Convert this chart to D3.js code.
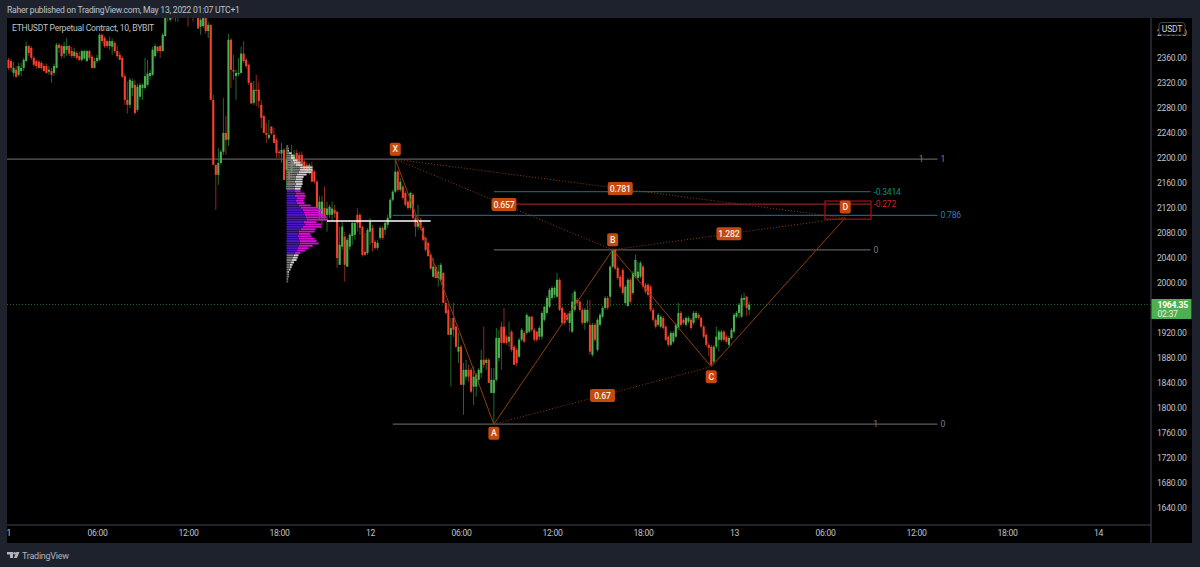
<!DOCTYPE html>
<html>
<head>
<meta charset="utf-8">
<style>
  html, body { margin: 0; padding: 0; background: #1e222d; overflow: hidden; }
  svg { display: block; }
  text { font-family: Roboto, "Noto Sans", sans-serif; letter-spacing: -0.25px; }
</style>
</head>
<body>
<div id="chart"></div>
<script src="https://cdn.jsdelivr.net/npm/d3@7"></script>
<script>
// ten minute candles, May 11 00:00 onward
const opens = [
  2343,2356,2354,2335,2340,2332,2338,2343,2354,2378,2375,2359,2354,2353,2351,2346,2346,2337,2338,2335,
  2343,2380,2378,2366,2372,2378,2370,2362,2367,2362,2356,2358,2354,2370,2361,2343,2354,2356,2396,2391,
  2386,2378,2377,2383,2370,2364,2359,2330,2292,2284,2311,2316,2276,2297,2311,2311,2316,2330,2332,2362,
  2377,2378,2370,2394,2436,2420,2439,2426,2433,2442,2442,2433,2439,2436,2436,2431,2433,2409,2410,2430,
  2402,2412,2292,2188,2172,2191,2209,2239,2228,2388,2340,2330,2334,2335,2366,2356,2348,2319,2287,2308,
  2308,2284,2266,2239,2231,2249,2236,2228,2209,2206,2212,2180,2177,2177,2186,2207,2204,2204,2193,2188,
  2180,2180,2177,2161,2108,2105,2119,2108,2108,2108,2116,2113,2028,2057,2073,2025,2057,2074,2076,2108,
  2108,2089,2049,2047,2081,2087,2065,2055,2071,2087,2084,2092,2103,2132,2145,2177,2148,2153,2143,2129,
  2119,2140,2103,2089,2100,2087,2071,2063,2044,2009,2025,2007,2004,2015,1967,1956,1916,1943,1929,1889,
  1897,1836,1849,1860,1860,1833,1833,1844,1855,1876,1871,1876,1823,1823,1844,1879,1929,1929,1913,1905,
  1921,1897,1892,1881,1908,1919,1919,1921,1945,1924,1921,1913,1913,1940,1951,1961,1975,1980,1977,2004,
  1959,1951,1948,1935,1921,1956,1972,1969,1956,1935,1937,1932,1884,1932,1892,1932,1945,1959,1975,1977,
  2025,2052,2023,2009,2020,1967,1962,2004,1983,2009,2007,2009,2025,1996,1996,1993,1956,1940,1932,1929,
  1943,1929,1913,1900,1905,1913,1927,1951,1940,1932,1937,1940,1935,1943,1948,1943,1929,1916,1900,1897,
  1873,1897,1908,1908,1921,1913,1900,1911,1921,1945,1951,1945,1972,1977,1956
];
const closes = [
  2356,2343,2343,2343,2329,2346,2343,2356,2378,2367,2359,2348,2346,2343,2343,2338,2335,2340,2332,2346,
  2380,2375,2362,2378,2378,2366,2362,2369,2359,2356,2370,2370,2370,2359,2343,2354,2359,2396,2386,2378,
  2378,2386,2386,2370,2362,2356,2329,2292,2284,2324,2322,2271,2313,2316,2316,2330,2334,2335,2372,2378,
  2370,2370,2396,2423,2423,2433,2430,2439,2442,2433,2436,2442,2431,2430,2430,2439,2406,2420,2430,2402,
  2412,2292,2188,2172,2191,2209,2239,2228,2388,2340,2337,2335,2335,2366,2354,2346,2319,2286,2308,2306,
  2290,2263,2239,2236,2236,2238,2223,2207,2207,2212,2164,2196,2164,2202,2204,2188,2186,2188,2180,2177,
  2188,2161,2161,2119,2129,2129,2105,2118,2121,2118,2110,2039,2060,2089,2028,2068,2076,2095,2095,2095,
  2087,2044,2044,2084,2097,2063,2055,2063,2087,2071,2095,2103,2132,2145,2177,2148,2161,2135,2124,2119,
  2143,2103,2089,2100,2087,2068,2052,2042,2022,2025,2007,2017,2028,1967,1951,1916,1927,1924,1897,1897,
  1836,1860,1860,1849,1825,1849,1852,1860,1876,1868,1876,1839,1844,1844,1911,1911,1903,1903,1903,1913,
  1892,1868,1871,1908,1924,1905,1948,1945,1924,1908,1908,1927,1951,1961,1975,1988,1991,1991,2004,1956,
  1935,1935,1940,1951,1969,1985,1967,1956,1935,1956,1956,1889,1932,1908,1940,1948,1959,1975,1959,2025,
  2052,2022,2007,1993,1983,1993,2004,1969,2015,2036,2017,2031,1993,1985,1980,1956,1940,1929,1948,1945,
  1927,1908,1900,1919,1919,1932,1951,1932,1935,1943,1943,1927,1951,1951,1943,1929,1913,1900,1895,1868,
  1897,1913,1921,1921,1908,1905,1911,1924,1948,1951,1964,1975,1975,1959,1964.35
];
const highs = [
  2370,2359,2358,2353,2346,2351,2351,2359,2385,2380,2378,2362,2356,2356,2354,2350,2350,2346,2343,2350,
  2383,2383,2380,2385,2391,2380,2377,2375,2370,2369,2372,2372,2372,2372,2364,2359,2364,2399,2398,2394,
  2388,2393,2390,2386,2378,2369,2362,2334,2321,2327,2326,2324,2318,2319,2318,2359,2356,2340,2377,2382,
  2378,2380,2399,2433,2439,2439,2444,2446,2447,2447,2446,2446,2446,2442,2442,2442,2439,2423,2436,2436,
  2417,2412,2300,2188,2215,2212,2295,2266,2398,2391,2364,2340,2359,2377,2386,2359,2350,2321,2322,2332,
  2321,2292,2268,2255,2260,2250,2247,2231,2212,2223,2215,2217,2188,2220,2212,2212,2209,2209,2196,2193,
  2191,2193,2180,2164,2138,2138,2153,2129,2124,2129,2124,2114,2089,2097,2081,2071,2079,2097,2098,2119,
  2111,2090,2079,2087,2103,2092,2068,2068,2090,2090,2097,2108,2135,2148,2196,2180,2167,2156,2146,2132,
  2145,2143,2106,2124,2103,2090,2073,2065,2046,2039,2028,2028,2031,2017,1972,1964,1943,1967,1932,1919,
  1900,1871,1876,1868,1863,1865,1855,1863,1892,1929,1879,1879,1863,1863,1927,1924,1937,1959,1916,1937,
  1924,1900,1895,1911,1927,1922,1951,1946,1946,1927,1922,1930,1954,1962,1978,1991,1994,1994,2015,2007,
  1962,1953,1951,1954,1983,1988,1975,1972,1959,1959,1972,1972,1935,1935,1943,1951,1962,1978,1978,2027,
  2054,2054,2027,2012,2023,1996,2007,2007,2018,2044,2033,2034,2028,1999,1999,1996,1959,1943,1951,1948,
  1946,1932,1916,1922,1922,1935,1967,1954,1943,1946,1946,1943,1954,1954,1951,1946,1932,1919,1903,1900,
  1900,1929,1924,1924,1924,1916,1914,1927,1951,1954,1967,1980,1983,1978,1969
];
const lows = [
  2319,2340,2337,2329,2327,2329,2330,2338,2353,2362,2356,2345,2342,2342,2340,2337,2334,2332,2319,2330,
  2342,2367,2358,2359,2362,2362,2359,2359,2356,2354,2353,2356,2353,2356,2342,2342,2351,2354,2382,2375,
  2375,2372,2364,2367,2359,2356,2327,2284,2270,2279,2298,2268,2273,2292,2292,2308,2313,2324,2330,2359,
  2367,2359,2369,2393,2417,2417,2420,2417,2417,2430,2433,2430,2409,2426,2417,2428,2406,2396,2407,2398,
  2391,2292,2188,2116,2156,2188,2204,2204,2218,2311,2324,2292,2330,2334,2351,2342,2316,2286,2284,2282,
  2279,2247,2239,2223,2228,2236,2223,2199,2199,2191,2164,2148,2145,2170,2180,2180,2180,2180,2177,2175,
  2172,2161,2158,2119,2100,2092,2100,2081,2103,2097,2103,2023,2028,2052,2001,2025,2052,2060,2068,2081,
  2076,2041,2042,2044,2060,2049,2052,2052,2068,2068,2076,2087,2100,2129,2143,2145,2145,2132,2121,2116,
  2116,2100,2073,2084,2084,2066,2049,2041,2020,2007,2006,1993,2001,1967,1948,1916,1833,1913,1895,1871,
  1836,1788,1844,1841,1823,1804,1817,1836,1847,1863,1860,1839,1823,1774,1841,1873,1860,1902,1900,1897,
  1889,1868,1866,1879,1905,1903,1916,1919,1921,1905,1905,1908,1908,1937,1948,1959,1972,1975,1975,1954,
  1932,1932,1937,1921,1919,1953,1962,1953,1932,1924,1934,1884,1881,1905,1889,1929,1942,1956,1956,1961,
  2023,2020,2004,1990,1980,1964,1961,1966,1980,2006,2004,2006,1990,1982,1977,1953,1937,1926,1929,1926,
  1924,1906,1897,1898,1902,1911,1924,1929,1932,1929,1934,1924,1932,1940,1940,1926,1910,1897,1882,1866,
  1870,1894,1889,1905,1905,1902,1897,1908,1918,1943,1943,1943,1962,1946,1948
];

// right side scale and time axis labels
const priceTicks = [2400,2360,2320,2280,2240,2200,2160,2120,2080,2040,2000,1920,1880,1840,1800,1760,1720,1680,1640];
const timeTicks = [0,36,72,108,144,180,216,252,288,324,360,396,432];
const timeLabels = ['11','06:00','12:00','18:00','12','06:00','12:00','18:00','13','06:00','12:00','18:00','14'];

// harmonic pattern
const patternNames = ['X','A','B','C','D'];
const patternBars = [154,193,240,279,332];
const patternPrices = [2197,1773,2052,1865,2103];
const ratioNames = ['0.657','0.781','1.282','0.67'];
const ratioFrom = [0,0,2,1];
const ratioTo = [2,4,4,3];

// fib levels drawn on the pattern
const fibPrices = [2197,2145,2125,2107,2052,1773];
const fibStart = [0,193,193,153,193,153];
const fibEnd = [368.5,342,342,368.5,342,368.5];
const fibLabels = ['1','-0.3414','-0.272','0.786','0','0'];
const fibLine = ['#5c5c5c','#0d655c','#8a2323','#1a5d85','#5c5c5c','#5c5c5c'];
const fibText = ['#787b86','#0b8f7e','#c42b2b','#2a7fb8','#787b86','#787b86'];
const fibInner = [{label:'1', bar:362, price:2197},{label:'1', bar:344, price:1773}];

// volume profile rows from the top row down
const vpTop = 2218;
const vpStep = 3.8;
const vpStartBar = 111;
const vpTotal = [1,2,2.5,5,7,8,11,14,16,26,26,25,20,17,16,16,16,15,14,14,18,19,18,17,18,24,32,35,34,37,40,41,30,35,35,29,28,24,25,28,30,32,26,22,19,14,12,11,10,7.5,6,5,4,2.5,2,2,1.5,1.5];
const vpUp = [0.5,1,1.5,2.5,4,4,6,7,9,13,13,12,10,9,9,8,9,8,8,8,9,8,10,9,10,12,14,16,17,18,19,20,17,18,16,14,12,12,11,12,13,13,12,11,10,8,7,6,5,4,3,3,2,1.5,1,1,1,1];
const vpAreaFirst = 19;
const vpAreaLast = 45;
const pocPrice = 2098;
const pocBars = [127,168];

const lastPrice = 1964.35;
const countdown = '02:37';

const width = 1200, height = 567;
const chart = { left: 7, top: 18, right: 1151, bottom: 525, axisRight: 1192, axisBottom: 543 };
const labelColor = '#bfc2ca';

const svg = d3.select('#chart').append('svg')
  .attr('width', width)
  .attr('height', height);

svg.append('rect').attr('width', width).attr('height', height).attr('fill', '#1e222d');
svg.append('rect')
  .attr('x', chart.left).attr('y', chart.top)
  .attr('width', chart.axisRight - chart.left)
  .attr('height', chart.axisBottom - chart.top)
  .attr('fill', '#000');

const defs = svg.append('defs');
defs.append('clipPath').attr('id', 'plot').append('rect')
  .attr('x', chart.left).attr('y', chart.top)
  .attr('width', chart.right - chart.left)
  .attr('height', chart.bottom - chart.top);
defs.append('clipPath').attr('id', 'timeclip').append('rect')
  .attr('x', chart.left).attr('y', chart.bottom)
  .attr('width', chart.right - chart.left)
  .attr('height', chart.axisBottom - chart.bottom);

const x = d3.scaleLinear().domain([0, 432]).range([6, 1098]);
const y = d3.scaleLinear().domain([2360, 1640]).range([57.3, 507.3]);

// axes
const yAxis = svg.append('g')
  .attr('transform', 'translate(' + chart.right + ',0)')
  .call(d3.axisRight(y).tickValues(priceTicks).tickFormat(d3.format('.2f')).tickSize(0).tickPadding(6));
yAxis.select('.domain').remove();
yAxis.selectAll('text').attr('fill', labelColor).attr('font-size', 8.6).style('font-family', 'Roboto, sans-serif');

const xAxis = svg.append('g')
  .attr('clip-path', 'url(#timeclip)')
  .append('g')
  .attr('transform', 'translate(0,' + chart.bottom + ')')
  .call(d3.axisBottom(x).tickValues(timeTicks).tickFormat(function(d, i) { return timeLabels[i]; }).tickSize(0).tickPadding(5));
xAxis.select('.domain').remove();
xAxis.selectAll('text').attr('fill', labelColor).attr('font-size', 8.6).style('font-family', 'Roboto, sans-serif');

svg.append('line').attr('x1', chart.left).attr('x2', chart.right).attr('y1', chart.bottom).attr('y2', chart.bottom)
  .attr('stroke', '#434651');
svg.append('line').attr('x1', chart.right).attr('x2', chart.right).attr('y1', chart.top).attr('y2', chart.axisBottom)
  .attr('stroke', '#434651');

const plot = svg.append('g').attr('clip-path', 'url(#plot)');

// last price line
plot.append('line')
  .attr('x1', chart.left).attr('x2', chart.right)
  .attr('y1', y(lastPrice)).attr('y2', y(lastPrice))
  .attr('stroke', '#1d6b2a').attr('stroke-dasharray', '1,2');

// fib levels
plot.selectAll('.fib').data(fibPrices).enter().append('line')
  .attr('class', 'fib')
  .attr('x1', function(d, i) { return x(fibStart[i]); })
  .attr('x2', function(d, i) { return x(fibEnd[i]); })
  .attr('y1', function(d) { return y(d); })
  .attr('y2', function(d) { return y(d); })
  .attr('stroke', function(d, i) { return fibLine[i]; })
  .attr('stroke-width', 1.2);

// candles
const bars = d3.range(opens.length);
const isUp = function(i) { return closes[i] >= opens[i]; };

plot.selectAll('.wick').data(bars).enter().append('line')
  .attr('class', 'wick')
  .attr('x1', function(i) { return x(i); })
  .attr('x2', function(i) { return x(i); })
  .attr('y1', function(i) { return y(highs[i]); })
  .attr('y2', function(i) { return y(lows[i]); })
  .attr('stroke', function(i) { return isUp(i) ? '#1f6b2b' : '#8c2a1e'; })
  .attr('stroke-width', 1);

plot.selectAll('.body').data(bars).enter().append('rect')
  .attr('class', 'body')
  .attr('x', function(i) { return x(i) - 1.05; })
  .attr('width', 2.1)
  .attr('y', function(i) { return y(Math.max(opens[i], closes[i])); })
  .attr('height', function(i) { return Math.max(1, Math.abs(y(opens[i]) - y(closes[i]))); })
  .attr('fill', function(i) { return isUp(i) ? '#4caf50' : '#f4402c'; });

// volume profile
const vpX = d3.scaleLinear().domain([0, 41]).range([x(vpStartBar), x(vpStartBar) + 41]);
const vpY = function(i) { return y(vpTop - i * vpStep); };
const inArea = function(i) { return i >= vpAreaFirst && i <= vpAreaLast; };

const vpRows = plot.selectAll('.vp').data(vpTotal).enter().append('g').attr('class', 'vp');
vpRows.append('rect')
  .attr('x', function(d, i) { return vpX(vpUp[i]); })
  .attr('y', function(d, i) { return vpY(i) - 0.95; })
  .attr('width', function(d, i) { return vpX(d) - vpX(vpUp[i]); })
  .attr('height', 1.9)
  .attr('fill', function(d, i) { return inArea(i) ? '#d60fd6' : '#cfcfcf'; });
vpRows.append('rect')
  .attr('x', vpX(0))
  .attr('y', function(d, i) { return vpY(i) - 0.95; })
  .attr('width', function(d, i) { return vpX(vpUp[i]) - vpX(0); })
  .attr('height', 1.9)
  .attr('fill', function(d, i) { return inArea(i) ? '#4a18c8' : '#7e7e7e'; });

plot.append('line')
  .attr('x1', x(pocBars[0])).attr('x2', x(pocBars[1]))
  .attr('y1', y(pocPrice)).attr('y2', y(pocPrice))
  .attr('stroke', '#fff').attr('stroke-width', 1.6);

// pattern lines
const px = function(i) { return x(patternBars[i]); };
const py = function(i) { return y(patternPrices[i]); };
const orange = '#8f3f0e';

plot.append('path')
  .datum(patternBars.map(function(b, i) { return [x(b), y(patternPrices[i])]; }))
  .attr('d', d3.line())
  .attr('fill', 'none').attr('stroke', orange).attr('stroke-width', 1);

plot.selectAll('.ratioline').data(ratioNames).enter().append('line')
  .attr('class', 'ratioline')
  .attr('x1', function(d, i) { return px(ratioFrom[i]); })
  .attr('y1', function(d, i) { return py(ratioFrom[i]); })
  .attr('x2', function(d, i) { return px(ratioTo[i]); })
  .attr('y2', function(d, i) { return py(ratioTo[i]); })
  .attr('stroke', orange).attr('stroke-dasharray', '1,2');

// PRZ box around D
plot.append('rect')
  .attr('x', x(324)).attr('width', x(342.2) - x(324))
  .attr('y', y(2130)).attr('height', y(2101) - y(2130))
  .attr('fill', 'none').attr('stroke', '#b30c0c').attr('stroke-width', 1.2);

// fib text
plot.selectAll('.fibtext').data(fibPrices).enter().append('text')
  .attr('class', 'fibtext')
  .attr('x', function(d, i) { return x(fibEnd[i]) + 3; })
  .attr('y', function(d) { return y(d); })
  .attr('dy', '0.35em')
  .attr('font-size', 8.6)
  .attr('fill', function(d, i) { return fibText[i]; })
  .text(function(d, i) { return fibLabels[i]; });
plot.selectAll('.fibinner').data(fibInner).enter().append('text')
  .attr('class', 'fibinner')
  .attr('x', function(d) { return x(d.bar); })
  .attr('y', function(d) { return y(d.price); })
  .attr('dy', '0.35em')
  .attr('text-anchor', 'middle')
  .attr('font-size', 8.6)
  .attr('fill', '#787b86')
  .text(function(d) { return d.label; });

// orange tags
function tag(cx, cy, w, label) {
  const g = plot.append('g').attr('transform', 'translate(' + cx + ',' + cy + ')');
  g.append('rect')
    .attr('x', -w / 2).attr('y', -6.5)
    .attr('width', w).attr('height', 13)
    .attr('rx', 2)
    .attr('fill', '#c6490c');
  g.append('text')
    .attr('text-anchor', 'middle')
    .attr('dy', '0.35em')
    .attr('font-size', 8.8)
    .attr('font-weight', 500)
    .attr('fill', '#f2efe9')
    .text(label);
}

const tagOffset = [-10, 9, -10, 10, -11];
patternNames.forEach(function(name, i) {
  tag(px(i), py(i) + tagOffset[i], 11, name);
});
ratioNames.forEach(function(name, i) {
  const a = ratioFrom[i], b = ratioTo[i];
  tag((px(a) + px(b)) / 2, (py(a) + py(b)) / 2, 25, name);
});

// chart title and header
svg.append('text')
  .attr('x', 12).attr('y', 31)
  .attr('font-size', 8.6)
  .attr('fill', labelColor)
  .text('ETHUSDT Perpetual Contract, 10, BYBIT');

svg.append('text')
  .attr('x', 7).attr('y', 13)
  .attr('font-size', 8.6)
  .attr('fill', labelColor)
  .text('Raher published on TradingView.com, May 13, 2022 01:07 UTC+1');

// last price label
svg.append('rect')
  .attr('x', chart.right + 0.5).attr('y', y(lastPrice) - 5.6)
  .attr('width', chart.axisRight - chart.right - 1).attr('height', 20)
  .attr('fill', '#4caf50');
svg.append('text')
  .attr('x', 1157.5).attr('y', y(lastPrice) + 3.6)
  .attr('font-size', 8.6).attr('font-weight', 700)
  .attr('fill', '#fff')
  .text(d3.format('.2f')(lastPrice));
svg.append('text')
  .attr('x', 1157.5).attr('y', y(lastPrice) + 12.6)
  .attr('font-size', 8.6)
  .attr('fill', '#e6f4e7')
  .text(countdown);

// currency button
svg.append('rect')
  .attr('x', 1159).attr('y', 22.5)
  .attr('width', 26).attr('height', 12.5)
  .attr('rx', 3)
  .attr('fill', '#000').attr('stroke', '#434651');
svg.append('text')
  .attr('x', 1172).attr('y', 31.8)
  .attr('text-anchor', 'middle')
  .attr('font-size', 8.6)
  .attr('fill', '#d1d4dc')
  .text('USDT');

// footer logo
const logo = svg.append('g').attr('fill', '#b2b5be');
logo.append('path').attr('d', 'M7 552h6v6h-3v-3.4h-3z');
logo.append('circle').attr('cx', 14.6).attr('cy', 553.3).attr('r', 1.3);
logo.append('path').attr('d', 'M16.4 552h3.1l-2.6 6h-3.1z');
svg.append('text')
  .attr('x', 22).attr('y', 558.5)
  .attr('font-size', 9)
  .attr('fill', '#b2b5be')
  .text('TradingView');
</script>
</body>
</html>
